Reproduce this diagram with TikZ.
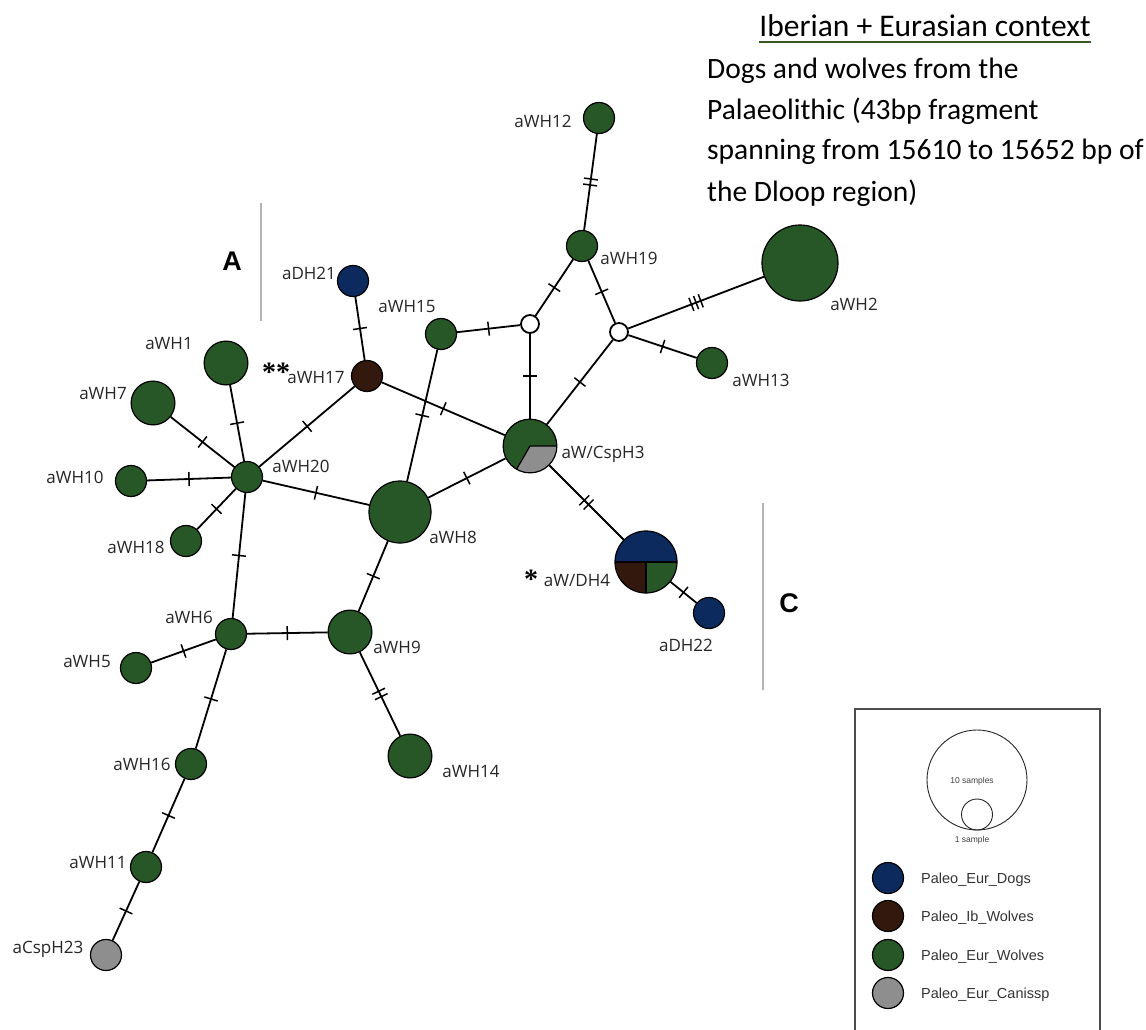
\documentclass[tikz,border=0pt]{standalone}
\usepackage{fontspec}
\setmainfont{Open Sans}
\newfontfamily\notefont{Carlito}
\newfontfamily\keyfont{Liberation Sans}
\newfontfamily\astfont{Liberation Serif}
\usetikzlibrary{decorations.markings}

\definecolor{wolfgreen}{HTML}{275627}
\definecolor{dogblue}{HTML}{0C2A5E}
\definecolor{ibbrown}{HTML}{33180E}
\definecolor{canisgray}{HTML}{8E8E8E}
\definecolor{titlegreen}{HTML}{385723}
\definecolor{bargray}{HTML}{B4B4B4}

\begin{document}
\begin{tikzpicture}[x=1pt, y=-1pt,
  hap/.style={circle, draw=black, line width=1.2pt, inner sep=0pt, minimum size=#1},
  hap/.default=31pt,
  mv/.style={circle, draw=black, line width=1.8pt, fill=white, inner sep=0pt, minimum size=18pt},
  link/.style={line width=1.8pt},
  tickline/.style={line width=1.5pt},
  mut1/.style={link, postaction={decorate, decoration={markings,
    mark=at position 0.5 with {\draw[tickline] (0pt,-7pt) -- (0pt,7pt);}}}},
  mut2/.style={link, postaction={decorate, decoration={markings,
    mark=at position 0.5 with {\draw[tickline] (-3pt,-7pt) -- (-3pt,7pt) (3pt,-7pt) -- (3pt,7pt);}}}},
  mut3/.style={link, postaction={decorate, decoration={markings,
    mark=at position 0.5 with {\draw[tickline] (-5pt,-7pt) -- (-5pt,7pt) (0pt,-7pt) -- (0pt,7pt) (5pt,-7pt) -- (5pt,7pt);}}}},
  lab/.style={font=\fontsize{17}{20}\selectfont, text=black!85, inner sep=0pt, text height=12pt, text depth=0pt},
  astx/.style={font=\astfont\bfseries\fontsize{28}{30}\selectfont, inner sep=0pt},
  clade/.style={font=\keyfont\bfseries\fontsize{27}{30}\selectfont, inner sep=0pt},
  bar/.style={bargray, line width=1.5pt},
  note/.style={font=\notefont\fontsize{29.5}{36}\selectfont, inner sep=0pt},
  keylab/.style={font=\keyfont\fontsize{14.5}{17}\selectfont, text=black!80, inner sep=0pt, text height=10.5pt, text depth=0pt},
  tiny/.style={font=\keyfont\fontsize{8.5}{10}\selectfont, text=black!75, inner sep=0pt}]
  \useasboundingbox[fill=white] (0,0) rectangle (1146,1030);

  % heading
  \node[note, font=\notefont\fontsize{31.5}{36}\selectfont, anchor=base] (title) at (925,37) {Iberian + Eurasian context};
  \draw[titlegreen, line width=2.5pt] ([yshift=-5pt]title.base west) -- ([yshift=-5pt]title.base east);
  \node[note, anchor=base west] (n1) at (707,79)  {Dogs and wolves from the};
  \node[note, anchor=base west] (n2) at (707,120) {Palaeolithic (43bp fragment};
  \node[note, anchor=base west] (n3) at (707,160) {spanning from 15610 to 15652 bp of};
  \node[note, anchor=base west] (n4) at (707,201) {the Dloop region)};

  % clade bars
  \draw[bar] (261,203) -- (261,321);
  \node[clade] (ca) at (232,261) {A};
  \draw[bar] (763,503) -- (763,690);
  \node[clade] (cc) at (789,603) {C};

  % haplotypes
  \node[hap, fill=wolfgreen] (h12) at (599,118) {};
  \node[hap, fill=wolfgreen] (h19) at (582,246) {};
  \node[hap=76pt, fill=wolfgreen] (h2) at (800,263) {};
  \node[mv] (mv1) at (530,324) {};
  \node[mv] (mv2) at (619,332) {};
  \node[hap, fill=wolfgreen] (h13) at (712,363) {};
  \node[hap, fill=wolfgreen] (h15) at (441,334) {};
  \node[hap, fill=dogblue] (dh21) at (353,281) {};
  \node[hap, fill=ibbrown] (h17) at (367,376) {};
  \node[hap=43.8pt, fill=wolfgreen] (h1) at (226,363) {};
  \node[hap=43.8pt, fill=wolfgreen] (h7) at (153,403) {};
  \node[hap, fill=wolfgreen] (h20) at (247,477) {};
  \node[hap, fill=wolfgreen] (h10) at (131,481) {};
  \node[hap, fill=wolfgreen] (h18) at (186,541) {};
  \node[hap=62pt, fill=wolfgreen] (h8) at (400,512) {};
  \node[hap=53.7pt, fill=wolfgreen, path picture={
    \fill[canisgray] (path picture bounding box.center) -- ++(-120:30pt) arc[start angle=-120, end angle=0, radius=30pt] -- cycle;
    \draw[line width=1.2pt] (path picture bounding box.center) -- ++(-120:30pt) (path picture bounding box.center) -- ++(0:30pt);}]
    (csph3) at (530,446) {};
  \node[hap=62pt, fill=dogblue, path picture={
    \fill[ibbrown] (path picture bounding box.center) -- ++(180:34pt) arc[start angle=180, end angle=270, radius=34pt] -- cycle;
    \fill[wolfgreen] (path picture bounding box.center) -- ++(270:34pt) arc[start angle=270, end angle=360, radius=34pt] -- cycle;
    \draw[line width=1.2pt] (path picture bounding box.center) ++(180:34pt) -- ++(0:68pt) (path picture bounding box.center) -- ++(270:34pt);}]
    (dh4) at (646,562) {};
  \node[hap, fill=dogblue] (dh22) at (709,613) {};
  \node[hap, fill=wolfgreen] (h6) at (231,634) {};
  \node[hap, fill=wolfgreen] (h5) at (136,668) {};
  \node[hap=43.8pt, fill=wolfgreen] (h9) at (350,632) {};
  \node[hap=43.8pt, fill=wolfgreen] (h14) at (410,756) {};
  \node[hap, fill=wolfgreen] (h16) at (191,764) {};
  \node[hap, fill=wolfgreen] (h11) at (146,867) {};
  \node[hap, fill=canisgray] (csph23) at (106,955) {};

  % mutational steps
  \draw[mut2] (h12) -- (h19);
  \draw[mut1] (h19) -- (mv1);
  \draw[mut1] (h19) -- (mv2);
  \draw[mut3] (mv2) -- (h2);
  \draw[mut1] (mv2) -- (h13);
  \draw[mut1] (mv2) -- (csph3);
  \draw[mut1] (mv1) -- (h15);
  \draw[mut1] (mv1) -- (csph3);
  \draw[mut1] (dh21) -- (h17);
  \draw[mut1] (h17) -- (h20);
  \draw[mut1] (h17) -- (csph3);
  \draw[mut1] (h15) -- (h8);
  \draw[mut1] (h8) -- (csph3);
  \draw[mut1] (h20) -- (h8);
  \draw[mut1] (h20) -- (h1);
  \draw[mut1] (h20) -- (h7);
  \draw[mut1] (h20) -- (h10);
  \draw[mut1] (h20) -- (h18);
  \draw[mut1] (h20) -- (h6);
  \draw[mut1] (h8) -- (h9);
  \draw[mut1] (h6) -- (h9);
  \draw[mut1] (h6) -- (h5);
  \draw[mut1] (h6) -- (h16);
  \draw[mut2] (h9) -- (h14);
  \draw[mut1] (h16) -- (h11);
  \draw[mut1] (h11) -- (csph23);
  \draw[mut2] (csph3) -- (dh4);
  \draw[mut1] (dh4) -- (dh22);

  % haplotype names
  \node[lab] (t12) at (543,122) {aWH12};
  \node[lab] (t19) at (629,258) {aWH19};
  \node[lab] (t2)  at (854,304) {aWH2};
  \node[lab] (t13) at (761,380) {aWH13};
  \node[lab] (t15) at (407,306) {aWH15};
  \node[lab] (t21) at (309,273) {aDH21};
  \node[astx] (s17) at (276,372) {**};
  \node[lab] (t17) at (316,377) {aWH17};
  \node[lab] (t1)  at (169,343) {aWH1};
  \node[lab] (t7)  at (103,393) {aWH7};
  \node[lab] (t20) at (301,466) {aWH20};
  \node[lab] (t10) at (75,477)  {aWH10};
  \node[lab] (t18) at (136,547) {aWH18};
  \node[lab] (t8)  at (453,537) {aWH8};
  \node[lab] (t3)  at (603,452) {aW/CspH3};
  \node[astx] (s4) at (531,579) {*};
  \node[lab] (t4)  at (577,580) {aW/DH4};
  \node[lab] (t22) at (686,645) {aDH22};
  \node[lab] (t6)  at (189,617) {aWH6};
  \node[lab] (t5)  at (87,661)  {aWH5};
  \node[lab] (t9)  at (397,647) {aWH9};
  \node[lab] (t14) at (471,771) {aWH14};
  \node[lab] (t16) at (142,764) {aWH16};
  \node[lab] (t11) at (98,862)  {aWH11};
  \node[lab] (t23) at (48,947)  {aCspH23};

  % legend
  \draw[black!70, line width=1.2pt] (855,1030) -- (855,709) -- (1100,709) -- (1100,1030);
  \node[circle, draw=black!85, line width=0.9pt, inner sep=0pt, minimum size=100pt] (big) at (977,780) {};
  \node[circle, draw=black!85, line width=0.9pt, inner sep=0pt, minimum size=31pt] (small) at (977,814.5) {};
  \node[tiny] (t10s) at (972,781) {10 samples};
  \node[tiny] (t1s)  at (972,840) {1 sample};
  \node[hap, fill=dogblue]    (k1) at (888,878) {};
  \node[hap, fill=ibbrown]    (k2) at (888,916) {};
  \node[hap, fill=wolfgreen]  (k3) at (888,955) {};
  \node[hap, fill=canisgray]  (k4) at (888,993) {};
  \node[keylab, anchor=west] (kl1) at (921,878) {Paleo\_Eur\_Dogs};
  \node[keylab, anchor=west] (kl2) at (921,916) {Paleo\_Ib\_Wolves};
  \node[keylab, anchor=west] (kl3) at (921,955) {Paleo\_Eur\_Wolves};
  \node[keylab, anchor=west] (kl4) at (921,993) {Paleo\_Eur\_Canissp};
\end{tikzpicture}
\end{document}
